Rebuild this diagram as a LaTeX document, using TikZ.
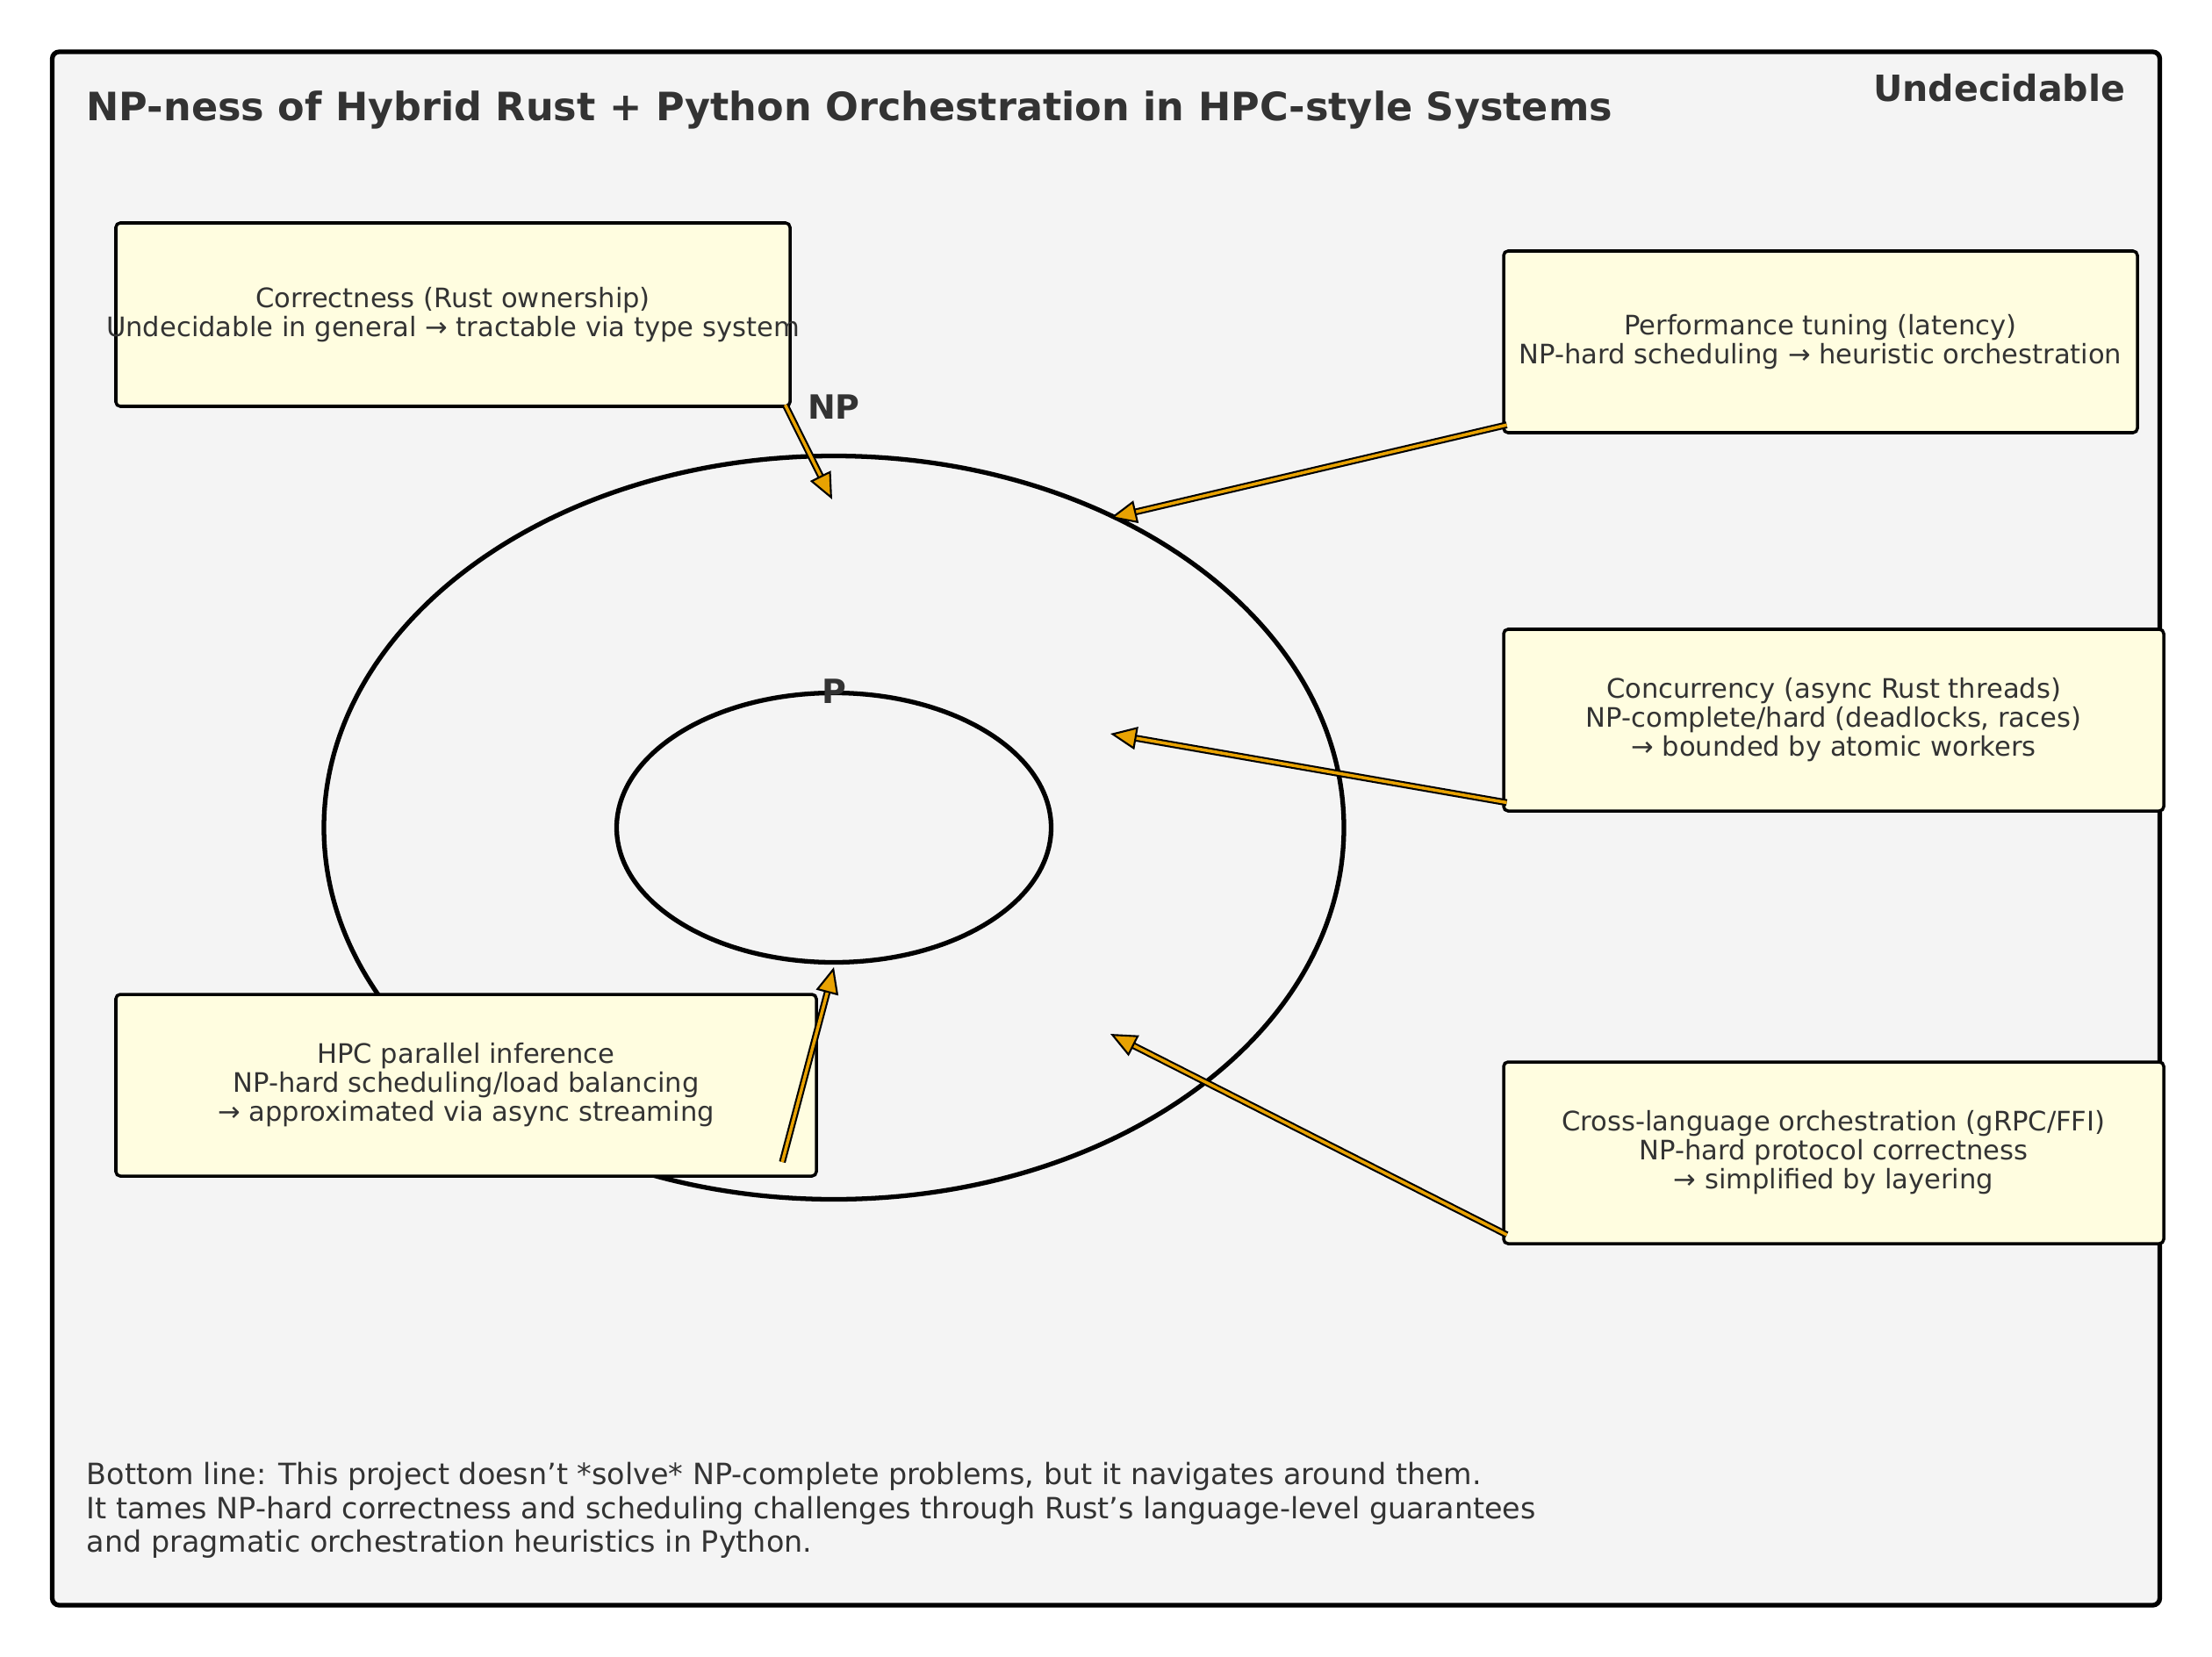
\documentclass[tikz,border=0pt]{standalone}
\usepackage{fontspec}
\setmainfont{DejaVu Sans}
\usepackage{xcolor}
\usetikzlibrary{arrows.meta, shapes, positioning, calc}

\definecolor{panelgray}{HTML}{F4F4F4}
\definecolor{noteyellow}{HTML}{FFFDE0}
\definecolor{textgray}{HTML}{333333}
\definecolor{floworange}{HTML}{E8A202}

\begin{document}
\begin{tikzpicture}[
        panel/.style={rectangle, draw, line width=1.5pt, rounded corners=0.08cm, fill=panelgray, inner sep=0pt},
        set/.style={ellipse, draw, line width=1.5pt, inner sep=0pt},
        setlabel/.style={text=textgray, inner sep=0pt, font={\fontsize{10.8}{12}\selectfont\bfseries}},
        note/.style={rectangle, draw, line width=1pt, rounded corners=0.05cm, fill=noteyellow, text=textgray, align=center, inner sep=0pt, minimum height=2.07cm, font={\fontsize{8.7}{9.4}\selectfont}},
        flow/.style={draw=floworange, line width=1.0pt, shorten <=0.5pt, -{Triangle[length=3mm, width=2.6mm, color=black, fill=floworange, line width=0.6pt]}, preaction={draw=black, line width=2.2pt, arrows=-, shorten >=1.6mm}}
    ]
        \useasboundingbox (0,0) rectangle (25.2,-18.88);

        % Frame and headings
        \node (frame) [panel, minimum width=24.01cm, minimum height=17.7cm] at (12.6,-9.44) {};
        \node (title) [anchor=west, inner sep=0pt, text=textgray, font={\fontsize{12.67}{14}\selectfont\bfseries}] at (0.98,-1.25) {NP-ness of Hybrid Rust + Python Orchestration in HPC-style Systems};
        \node (undecidable) [anchor=east, inner sep=0pt, text=textgray, font={\fontsize{11.7}{13}\selectfont\bfseries}] at (24.22,-1.0) {Undecidable};

        % Complexity classes
        \node (npset) [set, minimum width=11.62cm, minimum height=8.47cm] at (9.5,-9.43) {};
        \node (pset) [set, minimum width=4.95cm, minimum height=3.07cm] at (9.5,-9.43) {};
        \node (nplabel) [setlabel] at (9.5,-4.64) {NP};
        \node (plabel) [setlabel] at (9.5,-7.88) {P};

        % Concerns (left)
        \node (correctness) [note, minimum width=7.68cm, minimum height=2.09cm] at (5.16,-3.585) {\makebox[0pt]{Correctness (Rust ownership)}\\ \makebox[0pt]{Undecidable in general → tractable via type system}};
        \node (hpc) [note, minimum width=7.98cm] at (5.31,-12.365) {HPC parallel inference\\ NP-hard scheduling/load balancing\\ → approximated via async streaming};

        % Concerns (right)
        \node (performance) [note, minimum width=7.22cm] at (20.74,-3.895) {Performance tuning (latency)\\ NP-hard scheduling → heuristic orchestration};
        \node (concurrency) [note, minimum width=7.52cm] at (20.89,-8.205) {Concurrency (async Rust threads)\\ NP-complete/hard (deadlocks, races)\\ → bounded by atomic workers};
        \node (crosslang) [note, minimum width=7.52cm] at (20.89,-13.135) {Cross-language orchestration (gRPC/FFI)\\ NP-hard protocol correctness\\ → simplified by layering};

        % Bottom line
        \node (bottomline) [anchor=west, inner sep=0pt, align=left, text=textgray, font={\fontsize{9.5}{11}\selectfont}] at (0.98,-17.21) {Bottom line: This project doesn’t *solve* NP-complete problems, but it navigates around them.\\ It tames NP-hard correctness and scheduling challenges through Rust’s language-level guarantees\\ and pragmatic orchestration heuristics in Python.};

        % Arrow targets
        \coordinate (nptop) at (9.48,-5.69);
        \coordinate (nprim) at (12.65,-5.90);
        \coordinate (npright) at (12.65,-8.36);
        \coordinate (nplow) at (12.65,-11.78);
        \coordinate (pbottom) at (9.50,-11.02);

        % Flows
        \draw [flow] ([shift={(-0.08,0.05)}]correctness.south east) -- (nptop);
        \draw [flow] ([shift={(0.07,0.11)}]performance.south west) -- (nprim);
        \draw [flow] ([shift={(0.07,0.11)}]concurrency.south west) -- (npright);
        \draw [flow] ([shift={(0.07,0.11)}]crosslang.south west) -- (nplow);
        \draw [flow] ([shift={(-0.41,0.16)}]hpc.south east) -- (pbottom);
    \end{tikzpicture}
\end{document}
